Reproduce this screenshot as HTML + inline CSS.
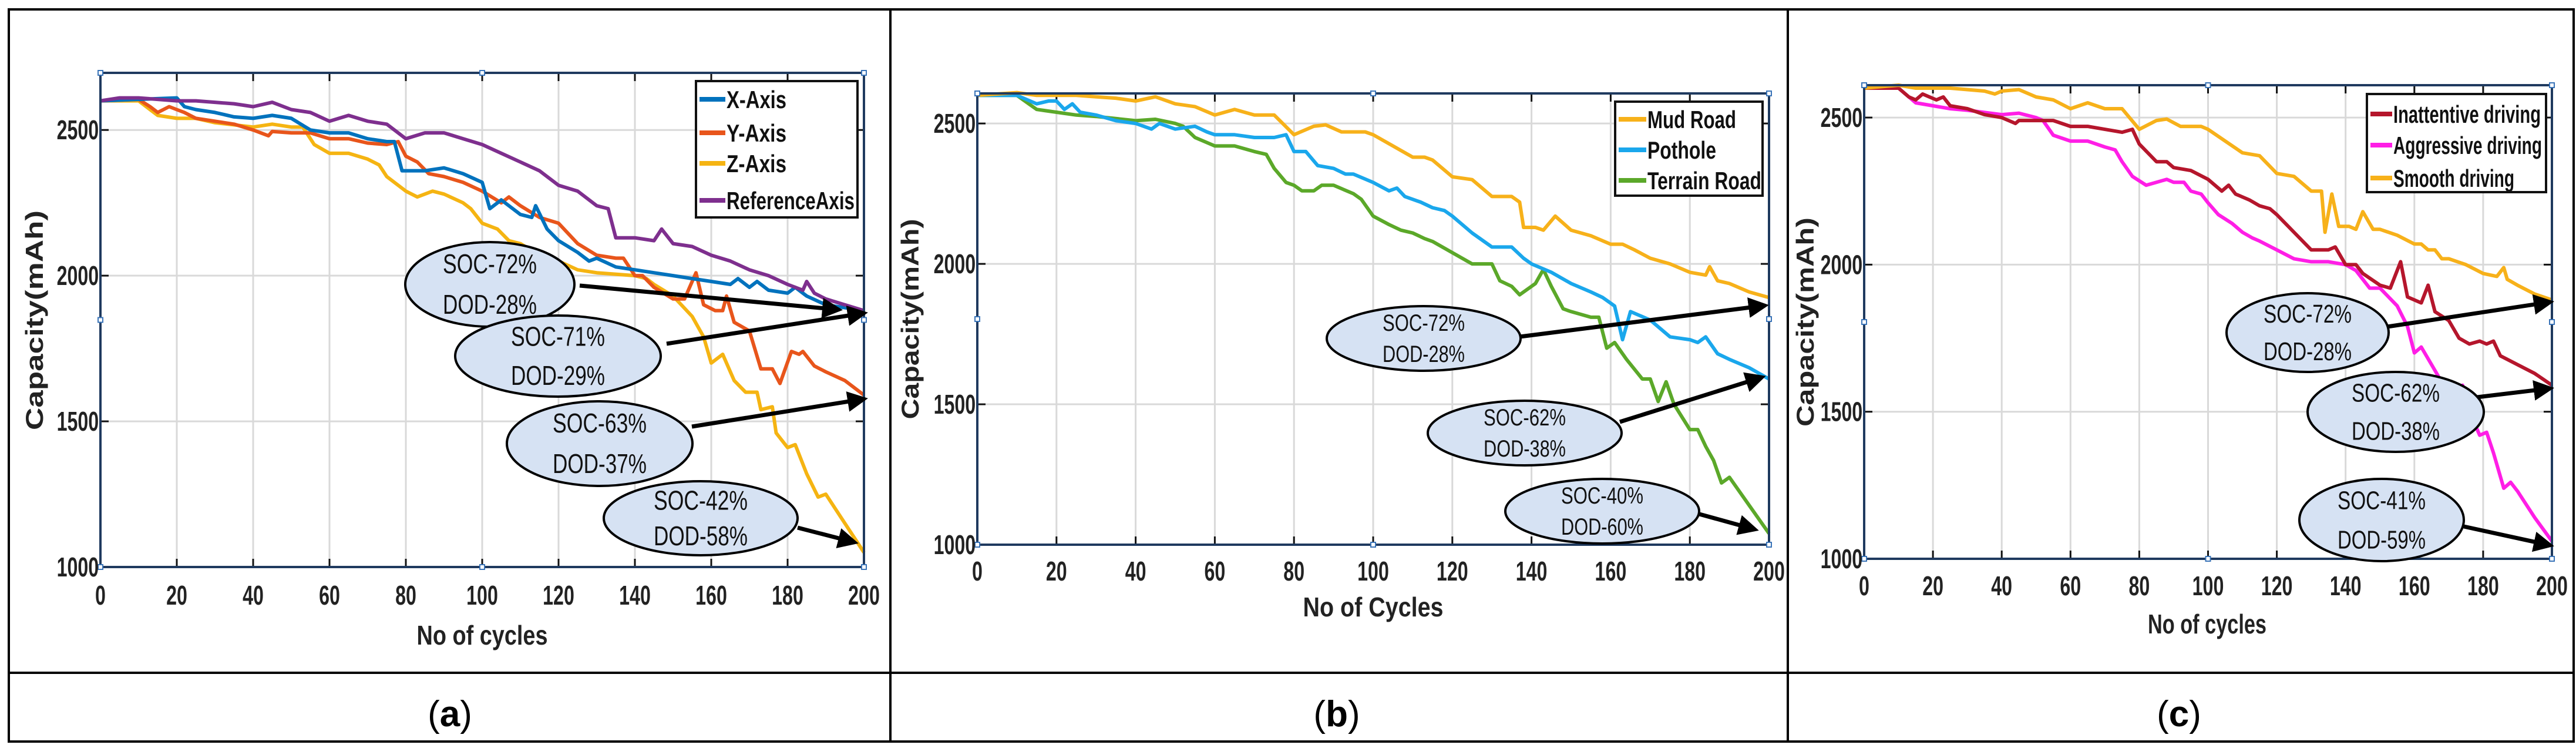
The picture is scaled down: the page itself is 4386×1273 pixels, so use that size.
<!DOCTYPE html>
<html><head><meta charset="utf-8"><style>
html,body{margin:0;padding:0;background:#fff}
svg{display:block}
text{font-family:"Liberation Sans",sans-serif}
</style></head><body>
<svg id="fig" width="4386" height="1273" viewBox="0 0 4386 1273" xmlns="http://www.w3.org/2000/svg">
<defs><marker id="ah" markerWidth="5" markerHeight="5" refX="4" refY="2.5" orient="auto" markerUnits="strokeWidth"><path d="M0,0 L5,2.5 L0,5 z" fill="#000"/></marker></defs>
<g fill="none" stroke="#000" stroke-width="4">
<rect x="15" y="16" width="4367" height="1246"/>
<line x1="15" y1="1145" x2="4382" y2="1145"/>
<line x1="1516" y1="16" x2="1516" y2="1262"/>
<line x1="3044" y1="16" x2="3044" y2="1262"/>
</g>
<g id="plots"></g>
</svg>
<script>
// ---- data: [cycle, capacity mAh] ----
const xTicks=[0,20,40,60,80,100,120,140,160,180,200];
const yTicks=[1000,1500,2000,2500];
const seriesXAxis=[[0,2600],[10,2605],[20,2610],[22,2580],[25,2570],[30,2560],[35,2545],[40,2540],[45,2550],[50,2540],[55,2500],[60,2490],[65,2490],[70,2470],[75,2460],[77,2460],[79,2360],[85,2360],[90,2370],[95,2350],[100,2320],[102,2230],[105,2260],[110,2210],[113,2200],[114,2240],[117,2160],[120,2120],[125,2080],[128,2050],[130,2060],[135,2030],[140,2020],[145,2010],[150,2000],[155,1990],[160,1980],[165,1970],[167,1990],[170,1960],[172,1980],[175,1950],[180,1940],[182,1960],[185,1930],[190,1900],[195,1890],[200,1880]];
const seriesYAxis=[[0,2600],[10,2605],[13,2580],[15,2560],[18,2580],[20,2570],[22,2560],[25,2540],[30,2530],[35,2520],[40,2500],[44,2480],[45,2495],[50,2490],[55,2490],[60,2470],[65,2470],[70,2455],[75,2450],[78,2460],[80,2410],[83,2390],[86,2350],[90,2340],[95,2320],[100,2290],[105,2250],[107,2270],[110,2240],[115,2200],[120,2180],[125,2110],[130,2070],[135,2060],[137,2060],[140,2000],[142,2000],[145,1960],[150,1920],[153,1920],[156,2010],[158,1900],[161,1880],[163,1880],[164,1930],[166,1840],[170,1810],[173,1680],[176,1680],[178,1630],[181,1740],[183,1730],[184,1740],[187,1690],[190,1670],[195,1640],[200,1590]];
const seriesZAxis=[[0,2600],[10,2600],[13,2570],[15,2550],[20,2540],[25,2540],[30,2525],[40,2510],[45,2520],[50,2510],[53,2510],[56,2450],[60,2420],[65,2420],[70,2400],[73,2380],[75,2340],[80,2290],[83,2270],[87,2290],[90,2280],[95,2250],[97,2230],[100,2180],[104,2160],[107,2120],[110,2110],[115,2070],[120,2050],[125,2020],[130,2010],[140,2000],[143,1990],[145,1970],[150,1930],[155,1860],[158,1790],[160,1700],[163,1730],[166,1640],[169,1600],[172,1600],[173,1540],[176,1550],[177,1460],[180,1410],[182,1420],[185,1320],[188,1240],[190,1250],[195,1150],[200,1050]];
const seriesRef=[[0,2600],[5,2610],[10,2610],[15,2605],[20,2600],[25,2600],[30,2595],[35,2590],[40,2580],[45,2595],[50,2570],[55,2560],[60,2530],[65,2550],[70,2530],[75,2520],[80,2470],[85,2490],[90,2490],[95,2470],[100,2450],[105,2420],[110,2390],[115,2360],[120,2310],[125,2290],[130,2240],[133,2230],[135,2130],[140,2130],[145,2120],[147,2160],[150,2110],[155,2100],[160,2070],[165,2050],[170,2020],[175,2000],[180,1970],[184,1950],[185,1980],[187,1940],[190,1920],[195,1900],[200,1880]];
const seriesMud=[[0,2600],[10,2610],[15,2600],[20,2600],[25,2600],[30,2595],[35,2590],[40,2580],[45,2595],[50,2570],[55,2560],[60,2530],[65,2550],[70,2530],[75,2530],[80,2460],[85,2490],[88,2495],[92,2470],[98,2470],[100,2460],[105,2420],[110,2380],[113,2380],[115,2370],[120,2310],[125,2300],[130,2240],[133,2240],[135,2240],[137,2220],[138,2130],[141,2130],[143,2120],[146,2170],[150,2120],[155,2100],[160,2070],[163,2070],[166,2050],[170,2020],[175,2000],[180,1970],[184,1960],[185,1990],[187,1940],[190,1930],[195,1900],[200,1880]];
const seriesPothole=[[0,2600],[10,2600],[15,2570],[18,2580],[20,2580],[22,2550],[24,2570],[26,2540],[30,2530],[35,2510],[40,2500],[44,2480],[46,2500],[50,2480],[55,2490],[58,2470],[60,2460],[65,2460],[70,2450],[75,2450],[78,2460],[80,2400],[83,2400],[86,2350],[90,2340],[93,2320],[95,2320],[100,2290],[104,2260],[106,2270],[108,2240],[112,2220],[115,2200],[118,2190],[120,2170],[125,2110],[130,2060],[135,2060],[138,2020],[140,2000],[145,1970],[150,1930],[155,1900],[158,1880],[160,1860],[161,1850],[163,1730],[165,1830],[170,1800],[175,1740],[180,1730],[182,1720],[184,1740],[187,1680],[190,1660],[195,1630],[200,1590]];
const seriesTerrain=[[0,2600],[10,2600],[13,2570],[15,2550],[20,2540],[25,2530],[30,2525],[40,2510],[45,2515],[50,2500],[52,2490],[55,2450],[60,2420],[65,2420],[70,2400],[73,2390],[75,2340],[78,2290],[80,2280],[82,2260],[85,2260],[87,2280],[90,2280],[95,2250],[97,2230],[100,2170],[104,2140],[107,2120],[110,2110],[113,2090],[115,2080],[120,2040],[125,2000],[130,2000],[132,1940],[135,1920],[137,1890],[140,1920],[141,1930],[143,1980],[145,1920],[148,1840],[150,1830],[155,1810],[157,1810],[159,1700],[161,1720],[164,1660],[168,1590],[170,1590],[172,1510],[174,1580],[176,1500],[180,1410],[182,1410],[184,1350],[186,1300],[188,1220],[190,1240],[195,1140],[200,1040]];
const seriesInattentive=[[0,2600],[10,2600],[13,2570],[15,2560],[17,2580],[19,2570],[21,2560],[23,2570],[25,2540],[30,2530],[35,2510],[40,2500],[44,2480],[45,2490],[50,2490],[55,2490],[60,2470],[65,2470],[70,2460],[75,2450],[78,2460],[80,2410],[85,2350],[88,2350],[90,2330],[95,2320],[100,2290],[104,2250],[106,2270],[108,2240],[112,2220],[115,2200],[118,2190],[120,2170],[125,2110],[130,2050],[135,2050],[137,2060],[140,2000],[143,2000],[145,1970],[150,1930],[153,1920],[156,2010],[158,1890],[162,1870],[164,1930],[166,1840],[170,1810],[173,1750],[176,1730],[179,1740],[181,1730],[183,1740],[185,1690],[190,1660],[195,1630],[200,1590]];
const seriesAggressive=[[0,2600],[10,2600],[15,2550],[20,2540],[25,2530],[30,2525],[40,2510],[45,2515],[50,2500],[52,2490],[55,2440],[60,2420],[65,2420],[70,2400],[73,2390],[75,2350],[78,2300],[82,2270],[85,2280],[88,2290],[90,2280],[93,2280],[95,2250],[98,2240],[100,2210],[103,2170],[107,2140],[110,2110],[113,2090],[115,2080],[120,2050],[125,2020],[130,2010],[135,2010],[140,2000],[143,1980],[147,1920],[150,1920],[155,1860],[158,1790],[160,1700],[162,1720],[165,1660],[168,1600],[170,1600],[172,1530],[174,1590],[176,1500],[179,1420],[181,1430],[183,1360],[186,1240],[188,1260],[190,1230],[195,1140],[200,1060]];
const seriesSmooth=[[0,2600],[10,2610],[15,2600],[20,2600],[25,2600],[30,2595],[35,2590],[38,2580],[40,2590],[45,2595],[50,2570],[55,2560],[60,2530],[65,2550],[70,2530],[75,2530],[80,2460],[85,2490],[88,2495],[92,2470],[98,2470],[100,2460],[105,2420],[110,2380],[115,2370],[120,2310],[125,2300],[130,2250],[133,2250],[134,2110],[136,2240],[138,2130],[141,2130],[143,2120],[145,2180],[148,2120],[150,2120],[155,2100],[160,2070],[162,2070],[164,2050],[166,2050],[168,2020],[170,2020],[175,2000],[180,1970],[184,1960],[186,1990],[187,1950],[190,1930],[195,1900],[200,1880]];

const NS="http://www.w3.org/2000/svg";
function mk(tag,attrs,parent){const e=document.createElementNS(NS,tag);for(const k in attrs)e.setAttribute(k,attrs[k]);parent.appendChild(e);return e;}
const root=document.getElementById('plots');

const panels=[
 {id:'a',x0:171,x1:1471,yTop:124,yMax:2696,y1000:965,xt:'No of cycles',xtX:821,xtY:1097,xtW:223,ytX:58,ytY:545,ytW:374,tickLblY:1029,label:'a',labelX:766,annF:46,annW:160,
  series:[{d:seriesXAxis,c:'#0072bd',n:'X-Axis',w:102},{d:seriesYAxis,c:'#e8551b',n:'Y-Axis',w:102},{d:seriesZAxis,c:'#f5b412',n:'Z-Axis',w:102},{d:seriesRef,c:'#7e2f8e',n:'ReferenceAxis',w:218}],
  order:[2,1,0,3],
  legend:{x:1185,y:138,w:275,h:232,tx:1237,ys:[169,226,278,341]},
  ann:[{cx:834,cy:484,rx:144,ry:72,t:['SOC-72%','DOD-28%'],a:[987,486,1428,527]},
       {cx:950,cy:606,rx:175,ry:69,t:['SOC-71%','DOD-29%'],a:[1135,585,1471,533]},
       {cx:1021,cy:755,rx:158,ry:72,t:['SOC-63%','DOD-37%'],a:[1178,726,1471,679]},
       {cx:1193,cy:882,rx:165,ry:63,t:['SOC-42%','DOD-58%'],a:[1358,898,1455,923]}]},
 {id:'b',x0:1664,x1:3012,yTop:159,yMax:2607,y1000:927,xt:'No of Cycles',xtX:2338,xtY:1049,xtW:239,ytX:1549,ytY:543,ytW:341,tickLblY:988,label:'b',labelX:2276,annF:40,annW:140,
  series:[{d:seriesMud,c:'#f7b11a',n:'Mud Road',w:151},{d:seriesPothole,c:'#1aa7ec',n:'Pothole',w:117},{d:seriesTerrain,c:'#5ba829',n:'Terrain Road',w:194}],
  order:[2,1,0],
  legend:{x:2750,y:173,w:251,h:160,tx:2805,ys:[203,255,307]},
  ann:[{cx:2424,cy:576,rx:165,ry:55,t:['SOC-72%','DOD-28%'],a:[2588,573,3005,520]},
       {cx:2596,cy:737,rx:165,ry:55,t:['SOC-62%','DOD-38%'],a:[2758,718,3000,642]},
       {cx:2728,cy:870,rx:165,ry:55,t:['SOC-40%','DOD-60%'],a:[2890,874,2988,901]}]},
 {id:'c',x0:3174,x1:4345,yTop:145,yMax:2610,y1000:951,xt:'No of cycles',xtX:3758,xtY:1078,xtW:202,ytX:3073,ytY:548,ytW:356,tickLblY:1013,label:'c',labelX:3710,annF:44,annW:150,
  series:[{d:seriesInattentive,c:'#b5162c',n:'Inattentive driving',w:251},{d:seriesAggressive,c:'#ff1ee6',n:'Aggressive driving',w:253},{d:seriesSmooth,c:'#f7b11a',n:'Smooth driving',w:206}],
  order:[1,0,2],
  legend:{x:4030,y:160,w:305,h:167,tx:4075,ys:[194,247,303]},
  ann:[{cx:3929,cy:566,rx:138,ry:67,t:['SOC-72%','DOD-28%'],a:[4065,556,4342,514]},
       {cx:4079,cy:701,rx:150,ry:68,t:['SOC-62%','DOD-38%'],a:[4126,687,4342,661]},
       {cx:4055,cy:885,rx:140,ry:70,t:['SOC-41%','DOD-59%'],a:[4195,896,4342,928]}]}
];

panels.forEach(p=>{
  const g=mk('g',{},root);
  
  
  const X=v=>p.x0+(v-0)/200*(p.x1-p.x0);
  const Y=v=>p.y1000-(v-1000)/(p.yMax-1000)*(p.y1000-p.yTop);
  const yb=p.y1000, yt=p.yTop;
  const grid=mk('g',{stroke:'#d9d9d9','stroke-width':3},g);
  
  
  xTicks.forEach(t=>mk('line',{x1:X(t),x2:X(t),y1:yt,y2:yb},grid));
  yTicks.forEach(t=>mk('line',{x1:p.x0,x2:p.x1,y1:Y(t),y2:Y(t)},grid));
  const tk=mk('g',{stroke:'#111','stroke-width':3},g);
  xTicks.forEach(t=>{mk('line',{x1:X(t),x2:X(t),y1:yb,y2:yb-14},tk);mk('line',{x1:X(t),x2:X(t),y1:yt,y2:yt+14},tk);});
  yTicks.forEach(t=>{mk('line',{x1:p.x0,x2:p.x0+14,y1:Y(t),y2:Y(t)},tk);mk('line',{x1:p.x1,x2:p.x1-14,y1:Y(t),y2:Y(t)},tk);});
  p.order.forEach(i=>{
    const s=p.series[i];
    const pts=s.d.map(q=>X(q[0]).toFixed(1)+','+Y(q[1]).toFixed(1)).join(' ');
    const pl=mk('polyline',{points:pts,fill:'none',stroke:s.c,'stroke-width':6,'stroke-linejoin':'round'},g);
    
    
  });
  mk('rect',{x:p.x0,y:yt,width:p.x1-p.x0,height:yb-yt,fill:'none',stroke:'#1f3a5f','stroke-width':4},g);
  const mx=(p.x0+p.x1)/2,my=(yt+yb)/2;
  [[p.x0,yt],[mx,yt],[p.x1,yt],[p.x0,my],[p.x1,my],[p.x0,yb],[mx,yb],[p.x1,yb]].forEach(h=>mk('rect',{x:h[0]-4,y:h[1]-4,width:8,height:8,fill:'#fff',stroke:'#3a74b8','stroke-width':2},g));
  xTicks.forEach(t=>{const e=mk('text',{x:X(t),y:p.tickLblY,'text-anchor':'middle','font-size':46,'font-weight':'bold',fill:'#222',transform:`translate(${X(t)},0) scale(0.7,1) translate(${-X(t)},0)`},g);e.textContent=t;
    
    });
  yTicks.forEach(t=>{const e=mk('text',{x:p.x0-4,y:Y(t)+16,'text-anchor':'end','font-size':46,'font-weight':'bold',fill:'#222',transform:`translate(${p.x0},0) scale(0.7,1) translate(${-p.x0},0)`},g);e.textContent=t;
    
    });
  const xt=mk('text',{x:p.xtX-p.xtW/2,y:p.xtY,'font-size':46,'font-weight':'bold',fill:'#222',textLength:p.xtW,lengthAdjust:'spacingAndGlyphs'},g);xt.textContent=p.xt;
  
  
  const yti=mk('text',{x:-p.ytW/2,y:0,'font-size':42,'font-weight':'bold',fill:'#222',textLength:p.ytW,lengthAdjust:'spacingAndGlyphs',transform:`translate(${p.ytX+15},${p.ytY}) rotate(-90)`},g);yti.textContent='Capacity(mAh)';
  
  
  const L=p.legend;
  const lg=mk('g',{},g);
  
  
  mk('rect',{x:L.x,y:L.y,width:L.w,height:L.h,fill:'#fff',stroke:'#111','stroke-width':4},lg);
  p.series.forEach((s,i)=>{
    const e=mk('g',{},lg);
    
    
    mk('line',{x1:L.x+6,x2:L.tx-2,y1:L.ys[i],y2:L.ys[i],stroke:s.c,'stroke-width':8},e);
    const t=mk('text',{x:L.tx,y:L.ys[i]+15,'font-size':42,'font-weight':'bold',fill:'#111',textLength:s.w,lengthAdjust:'spacingAndGlyphs'},e);t.textContent=s.n;
  });
  p.ann.forEach(a=>{
    const ag=mk('g',{},g);
    
    
    mk('line',{x1:a.a[0],y1:a.a[1],x2:a.a[2],y2:a.a[3],stroke:'#000','stroke-width':7,'marker-end':'url(#ah)'},ag);
    mk('ellipse',{cx:a.cx,cy:a.cy,rx:a.rx,ry:a.ry,fill:'#d6e2f3',stroke:'#000','stroke-width':4},ag);
    a.t.forEach((s,k)=>{const t=mk('text',{x:a.cx-p.annW/2,y:a.cy+(k?1:-1)*a.ry*0.48+p.annF*0.34,'font-size':p.annF,fill:'#111',textLength:p.annW,lengthAdjust:'spacingAndGlyphs'},ag);t.textContent=s;});
  });
  const pl=mk('text',{x:p.labelX,y:1236,'text-anchor':'middle','font-size':62,'font-family':'Liberation Serif, serif',fill:'#000'},g);
  pl.innerHTML='(<tspan font-weight="bold">'+p.label+'</tspan>)';
  
  
});
</script>
</body></html>
